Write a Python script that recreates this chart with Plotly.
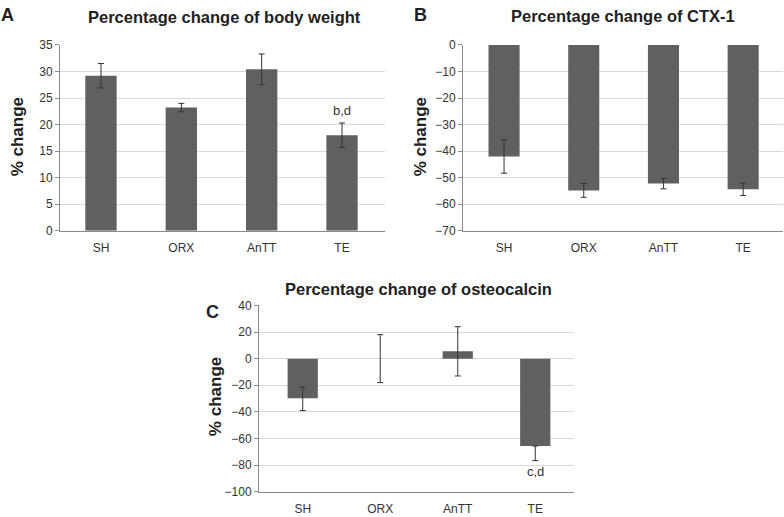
import plotly.graph_objects as go

categories = ["SH", "ORX", "AnTT", "TE"]

# Panel A: body weight
bw_values = [29.2, 23.2, 30.4, 18.0]
bw_errors = [2.3, 0.8, 2.9, 2.3]

# Panel B: CTX-1
ctx_values = [-42.0, -54.8, -52.2, -54.4]
ctx_errors = [6.3, 2.6, 2.0, 2.3]

# Panel C: osteocalcin (upper whisker of TE hidden inside the bar)
oc_values = [-29.8, 0.0, 5.5, -65.6]
oc_errors_plus = [8.4, 18.0, 18.5, 0.0]
oc_errors_minus = [9.2, 18.0, 18.5, 11.0]

W, H = 784, 517
def px(x): return x / W
def py(y): return 1 - y / H

BAR = "#5f6062"
ERR = "#333333"
GRID = "#d9d9d9"
AXIS = "#8a8a8a"
FONT = "Liberation Sans, Arial, sans-serif"

fig = go.Figure()

def add_bar(vals, plus, minus, xa, ya):
    fig.add_trace(go.Bar(
        x=categories, y=vals, width=0.39,
        marker=dict(color=BAR, line=dict(width=0)),
        error_y=dict(type="data", array=plus, arrayminus=minus, symmetric=False, visible=True,
                     color=ERR, thickness=1, width=3),
        xaxis=xa, yaxis=ya, showlegend=False,
    ))

add_bar(bw_values, bw_errors, bw_errors, "x", "y")
add_bar(ctx_values, ctx_errors, ctx_errors, "x2", "y2")
add_bar(oc_values, oc_errors_plus, oc_errors_minus, "x3", "y3")

xcommon = dict(type="category", showline=True, linecolor=AXIS, linewidth=1, ticks="",
               showgrid=False, zeroline=False, tickfont=dict(size=12, color="#333", family=FONT),
               ticklabelstandoff=6, fixedrange=True)
ycommon = dict(showline=True, linecolor=AXIS, linewidth=1, ticks="outside", ticklen=4, tickcolor=AXIS,
               showgrid=True, gridcolor=GRID, gridwidth=1, zeroline=False,
               tickfont=dict(size=12, color="#333", family=FONT), fixedrange=True)

fig.update_layout(
    width=W, height=H, margin=dict(l=0, r=0, t=0, b=0),
    paper_bgcolor="white", plot_bgcolor="white",
    font=dict(family=FONT, color="#222"),
    xaxis=dict(xcommon, domain=[px(60), px(385)], range=[-0.51, 3.535], anchor="y"),
    yaxis=dict(ycommon, domain=[py(230), py(39)], range=[0, 35], dtick=5, anchor="x"),
    xaxis2=dict(xcommon, domain=[px(463), px(783)], range=[-0.515, 3.5], anchor="y2"),
    yaxis2=dict(ycommon, domain=[py(230), py(39)], range=[-70, 0], anchor="x2",
                tickvals=[0, -10, -20, -30, -40, -50, -60, -70],
                ticktext=["0", "\u221210", "\u221220", "\u221230", "\u221240", "\u221250", "\u221260", "\u221270"]),
    xaxis3=dict(xcommon, domain=[px(259), px(574)], range=[-0.564, 3.5], anchor="y3",
                ticklabelstandoff=6),
    yaxis3=dict(ycommon, domain=[py(498.3), py(306.7)], range=[-100, 40], anchor="x3",
                tickvals=[40, 20, 0, -20, -40, -60, -80, -100],
                ticktext=["40", "20", "0", "\u221220", "\u221240", "\u221260", "\u221280", "\u2212100"]),
)

def text(x, y, s, size, bold=True, angle=0, xanchor="center"):
    fig.add_annotation(x=px(x), y=py(y), xref="paper", yref="paper", text=f"<b>{s}</b>" if bold else s,
                       showarrow=False, textangle=angle, xanchor=xanchor, yanchor="middle",
                       font=dict(size=size, family=FONT, color="#222"))

# Titles and panel letters
text(224, 10, "Percentage change of body weight", 16.5)
text(623, 9, "Percentage change of CTX-1", 16.5)
text(418, 290, "Percentage change of osteocalcin", 16.5)
text(8, 8, "A", 18)
text(420, 8, "B", 18)
text(212, 313, "C", 18)

# Y-axis titles
text(17, 134, "% change", 17, angle=-90)
text(420, 134, "% change", 17, angle=-90)
text(215, 401, "% change", 17, angle=-90)

# Significance labels
fig.add_annotation(x="TE", y=22.6, xref="x", yref="y", text="b,d", showarrow=False,
                   font=dict(size=13, family=FONT, color="#333"))
fig.add_annotation(x="TE", y=-85, xref="x3", yref="y3", text="c,d", showarrow=False,
                   font=dict(size=13, family=FONT, color="#333"))

fig.write_html("out.html", config={"displayModeBar": False, "staticPlot": True},
               post_script="document.body.style.margin='0';document.body.style.padding='0';")
